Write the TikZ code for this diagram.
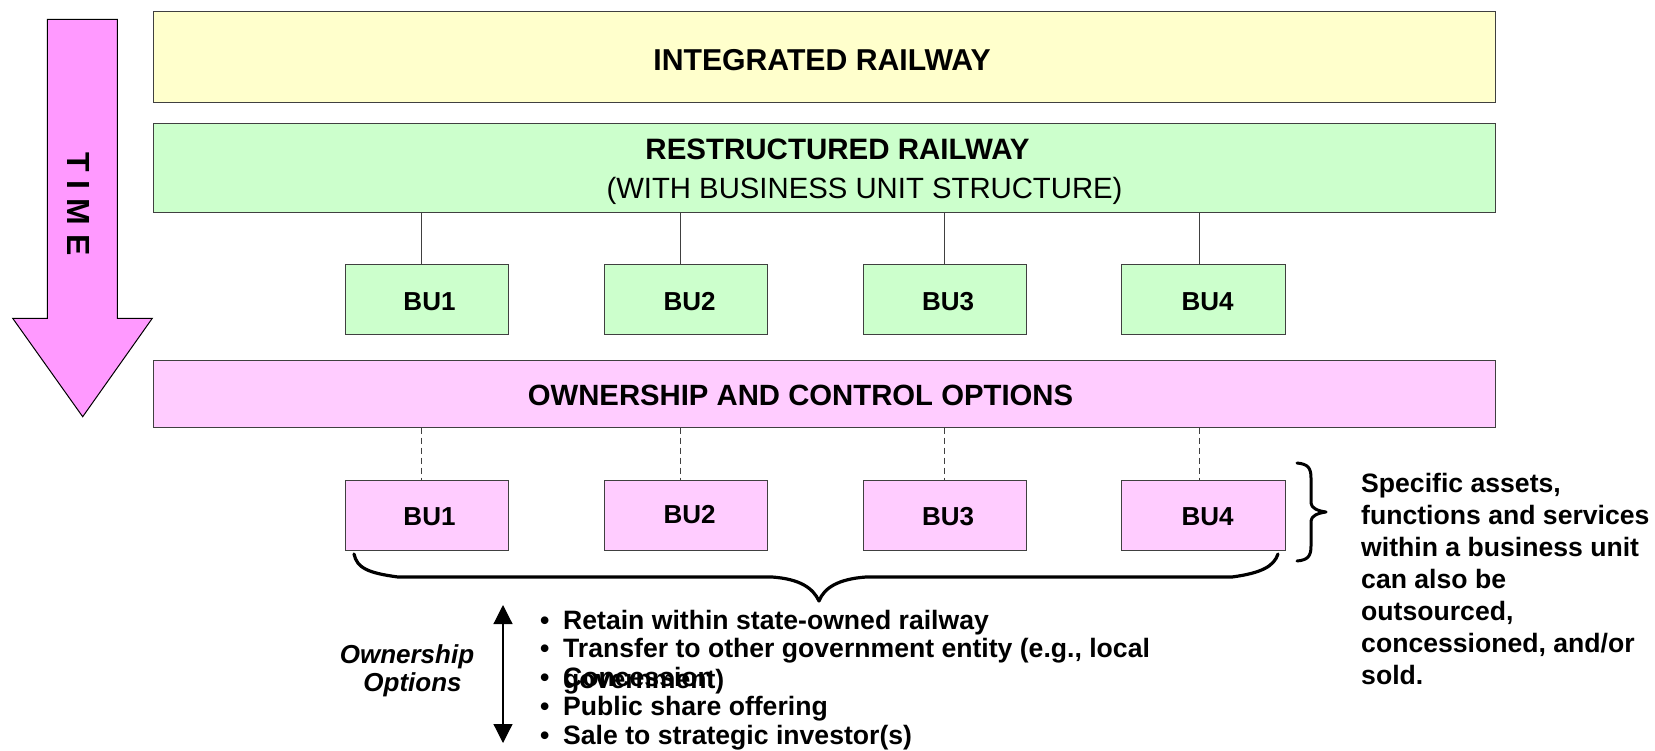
\documentclass[tikz,border=0pt]{standalone}
\usepackage{fontspec}
\setmainfont{Liberation Sans}
\usetikzlibrary{arrows.meta}

\definecolor{railyellow}{HTML}{FFFFCC}
\definecolor{railgreen}{HTML}{CCFFCC}
\definecolor{railpink}{HTML}{FFCCFF}
\definecolor{timepink}{HTML}{FF99FF}
\definecolor{edgegray}{HTML}{404040}

\tikzset{
  panel/.style={draw=edgegray, line width=1pt, inner sep=0pt, outer sep=0pt, anchor=north west},
  titletext/.style={font=\fontsize{29.5}{35}\selectfont\bfseries, inner sep=0pt, anchor=base},
  plaintitle/.style={font=\fontsize{29.3}{35}\selectfont, inner sep=0pt, anchor=base},
  butext/.style={font=\fontsize{26}{31}\selectfont\bfseries, inner sep=0pt, anchor=base},
  bodytext/.style={font=\fontsize{26.6}{31}\selectfont\bfseries, inner sep=0pt, anchor=base west},
  sidetext/.style={font=\fontsize{26}{31}\selectfont\bfseries\itshape, inner sep=0pt, anchor=base},
  solidlink/.style={draw=edgegray, line width=1pt},
  dashlink/.style={draw=edgegray, line width=1pt, dash pattern=on 6pt off 4pt},
  bracestroke/.style={line width=3.2pt, line join=round, line cap=round},
}

\begin{document}
\begin{tikzpicture}[x=1pt, y=-1pt]
\useasboundingbox (0,0) rectangle (1655,750);

% time arrow
\draw[fill=timepink, line width=1pt, line join=miter]
  (47.3,19.3) -- (117.3,19.3) -- (117.3,318.3) -- (152.3,318.3)
  -- (82.7,416.7) -- (12.7,318.3) -- (47.3,318.3) -- cycle;
\node[font=\fontsize{32}{36}\selectfont\bfseries, inner sep=0pt, rotate=-90] (time) at (78.3,204) {T I M E};

% stage panels
\node[panel, fill=railyellow, minimum width=1342.5pt, minimum height=91.2pt] (integrated) at (153,11.3) {};
\node[panel, fill=railgreen, minimum width=1342.5pt, minimum height=89pt] (restructured) at (153,123.3) {};
\node[panel, fill=railpink, minimum width=1342.5pt, minimum height=67.7pt] (ownership) at (153,360) {};

% business units
\foreach \i/\x/\w in {1/345/163, 2/604/163.3, 3/863/163, 4/1121/164.6} {
  \node[panel, fill=railgreen, minimum width=\w pt, minimum height=70.8pt] (g\i) at (\x,264) {};
  \node[panel, fill=railpink, minimum width=\w pt, minimum height=70pt] (p\i) at (\x,480) {};
}

% connector positions
\coordinate (c1) at (421,0);
\coordinate (c2) at (680,0);
\coordinate (c3) at (944,0);
\coordinate (c4) at (1199,0);
\foreach \i in {1,2,3,4} {
  \draw[solidlink] (restructured.south -| c\i) -- (g\i.north -| c\i);
  \draw[dashlink] (ownership.south -| c\i) -- (p\i.north -| c\i);
}

% panel titles
\node[titletext, font=\fontsize{30.2}{35}\selectfont\bfseries] (t1) at (822,70.7) {INTEGRATED RAILWAY};
\node[titletext] (t2) at (837.5,159.3) {RESTRUCTURED RAILWAY};
\node[plaintitle] (t2b) at (864.5,198.3) {(WITH BUSINESS UNIT STRUCTURE)};
\node[titletext, font=\fontsize{29.3}{35}\selectfont\bfseries] (t3) at (800.5,405.7) {OWNERSHIP AND CONTROL OPTIONS};

% unit labels
\foreach \i/\x in {1/429.5, 2/689.5, 3/948, 4/1207.5} {
  \node[butext] (gl\i) at (\x,310) {BU\i};
}
\node[butext] (pl1) at (429.5,525.5) {BU1};
\node[butext] (pl2) at (689.5,523.5) {BU2};
\node[butext] (pl3) at (948,525.5) {BU3};
\node[butext] (pl4) at (1207.5,525.5) {BU4};

% braces
\coordinate (bl) at (354,554);
\coordinate (bt) at (819,601);
\coordinate (br) at (1278,554);
\draw[bracestroke] (bl) .. controls (357,568) and (368,573) .. (398,577)
  -- (772,577) .. controls (800,579) and (813,588) .. (bt)
  .. controls (824,588) and (838,579) .. (866,577)
  -- (1232,577) .. controls (1262,573) and (1274,566) .. (br);

\coordinate (rt) at (1297,463);
\coordinate (rm) at (1326,512);
\coordinate (rb) at (1297,561);
\draw[bracestroke, line width=3pt] (rt) .. controls (1308,464) and (1311,468) .. (1311,478)
  -- (1311,503) .. controls (1311,508) and (1318,511) .. (rm)
  .. controls (1318,513) and (1311,516) .. (1311,521)
  -- (1311,546) .. controls (1311,556) and (1308,560) .. (rb);

% ownership range arrow
\coordinate (oa) at (503,605);
\coordinate (ob) at (503,743);
\draw[line width=1.2pt, {Triangle[length=19pt,width=19pt]}-{Triangle[length=19pt,width=19pt]}] (oa) -- (ob);
\node[sidetext] (own1) at (407,663) {Ownership};
\node[sidetext] (own2) at (412.5,691) {Options};

% ownership options list
\foreach \j/\y in {1/629, 2/657.8, 3/686.6, 4/715.4, 5/744.2} {
  \node[bodytext] (b\j) at (540,\y) {•};
}
\node[bodytext] (o1) at (563,629) {Retain within state-owned railway};
\node[bodytext] (o2) at (563,657.8) {Transfer to other government entity (e.g., local};
\node[bodytext] (o2b) at (563,688) {government)};
\node[bodytext] (o3) at (563,686.6) {Concession};
\node[bodytext] (o4) at (563,715.4) {Public share offering};
\node[bodytext] (o5) at (563,744.2) {Sale to strategic investor(s)};

% note on assets within units
\foreach \k/\y/\txt in {1/492/{Specific assets,}, 2/524/{functions and services}, 3/556/{within a business unit},
  4/588/{can also be}, 5/620/{outsourced,}, 6/652/{concessioned, and/or}, 7/684/{sold.}} {
  \node[bodytext] (n\k) at (1361,\y) {\txt};
}
\end{tikzpicture}
\end{document}
